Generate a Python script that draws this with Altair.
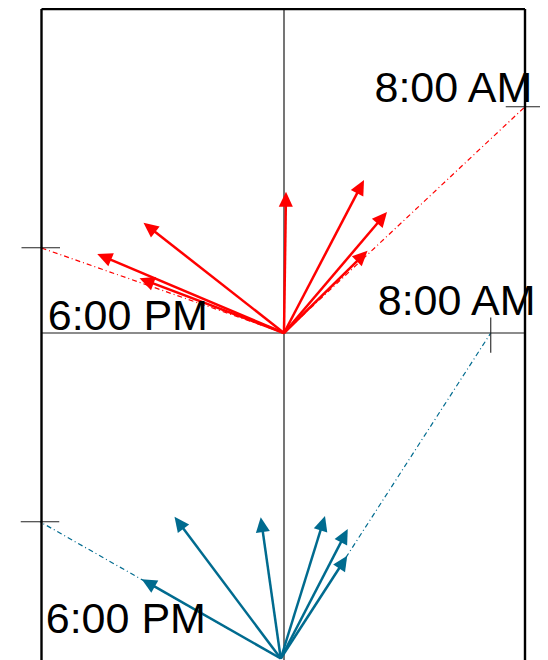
import altair as alt
import pandas as pd
import numpy as np

# ---- data (in plot units; 1 unit ~ same on both axes) ----
red_origin = [0.0, 0.0]
red_tip_x = [0.08, 3.20, 4.12, 3.34, -5.62, -7.47, -5.78]
red_tip_y = [5.65, 6.12, 4.84, 3.29, 4.41, 3.16, 2.19]

blue_origin = [-0.13, -13.02]
blue_tip_x = [-5.69, -4.38, -0.93, 1.64, 2.55, 2.53]
blue_tip_y = [-9.85, -7.35, -7.37, -7.32, -7.84, -8.91]

series_names = ["red", "blue"]
series_colors = ["#ff0000", "#006b8f"]

guide_series = ["red", "red", "blue", "blue"]
guide_end_x = [9.64, -9.73, 8.27, -9.76]
guide_end_y = [9.05, 3.41, 0.0, -7.55]
tick_dir = ["h", "h", "v", "h"]
tick_half = 0.77

label_text = ["8:00 AM", "6:00 PM", "8:00 AM", "6:00 PM"]
label_x = [9.93, -9.45, 10.06, -9.53]
label_y = [9.25, 0.12, 0.72, -12.01]
label_align = ["right", "left", "right", "left"]

frame_left, frame_right, frame_top = -9.70, 9.64, 12.96
x_domain = [-11.04, 10.24]
y_domain = [-13.08, 13.0]

W, H = 532, 652
head_len = 0.5

# ---- build tables ----
rows = []
for name, org, tx, ty in [("red", red_origin, red_tip_x, red_tip_y),
                          ("blue", blue_origin, blue_tip_x, blue_tip_y)]:
    for a, b in zip(tx, ty):
        du, dv = a - org[0], b - org[1]
        L = np.hypot(du, dv)
        ang = (np.degrees(np.arctan2(du, dv)) + 360) % 360
        rows.append(dict(series=name, x=org[0], y=org[1], x2=a, y2=b,
                         sx=a - du / L * head_len, sy=b - dv / L * head_len,
                         angle=ang))
arrows = pd.DataFrame(rows)

origins = {"red": red_origin, "blue": blue_origin}
guides = pd.DataFrame(dict(series=guide_series,
                           x=[origins[s][0] for s in guide_series],
                           y=[origins[s][1] for s in guide_series],
                           x2=guide_end_x, y2=guide_end_y))

trows = []
for ex, ey, d in zip(guide_end_x, guide_end_y, tick_dir):
    if d == "h":
        trows.append(dict(x=ex - tick_half, x2=ex + tick_half, y=ey, y2=ey))
    else:
        trows.append(dict(x=ex, x2=ex, y=ey + tick_half * 0.8, y2=ey - tick_half * 1.03))
ticks = pd.DataFrame(trows)

frame = pd.DataFrame(dict(
    x=[frame_left, frame_right, frame_left],
    x2=[frame_left, frame_right, frame_right],
    y=[frame_top, frame_top, frame_top],
    y2=[y_domain[0], y_domain[0], frame_top]))

cross = pd.DataFrame(dict(
    x=[frame_left, 0.0], x2=[frame_right, 0.0],
    y=[0.0, frame_top], y2=[0.0, y_domain[0]]))

labels = pd.DataFrame(dict(text=label_text, x=label_x, y=label_y, align=label_align))

xs = alt.Scale(domain=x_domain, nice=False, zero=False)
ys = alt.Scale(domain=y_domain, nice=False, zero=False)
col = alt.Color("series:N", scale=alt.Scale(domain=series_names, range=series_colors), legend=None)

def X(f="x"):
    return alt.X(f"{f}:Q", scale=xs, axis=None)

def Y(f="y"):
    return alt.Y(f"{f}:Q", scale=ys, axis=None)

cross_layer = alt.Chart(cross).mark_rule(color="#1a1a1a", strokeWidth=1.2).encode(
    x=X(), y=Y(), x2="x2:Q", y2="y2:Q")

frame_layer = alt.Chart(frame).mark_rule(color="#000000", strokeWidth=2.4).encode(
    x=X(), y=Y(), x2="x2:Q", y2="y2:Q")

guide_layer = alt.Chart(guides).mark_rule(strokeWidth=1.2, strokeDash=[5, 3, 1, 3]).encode(
    x=X(), y=Y(), x2="x2:Q", y2="y2:Q", color=col)

tick_layer = alt.Chart(ticks).mark_rule(color="#222222", strokeWidth=1.1).encode(
    x=X(), y=Y(), x2="x2:Q", y2="y2:Q")

shaft_layer = alt.Chart(arrows).mark_rule(strokeWidth=2.5).encode(
    x=X(), y=Y(), x2="sx:Q", y2="sy:Q", color=col)

head_layer = alt.Chart(arrows).mark_point(
    shape="M0,0L-0.47,1L0.47,1Z", filled=True, opacity=1, size=900, strokeWidth=0
).encode(
    x=X("x2"), y=Y("y2"), angle=alt.Angle("angle:Q", scale=None), color=col)

text_layers = []
for al in ["left", "right"]:
    text_layers.append(
        alt.Chart(labels[labels["align"] == al]).mark_text(
            font="Liberation Sans", fontSize=43, baseline="alphabetic",
            color="#000000", align=al
        ).encode(x=X(), y=Y(), text="text:N")
    )

chart = alt.layer(cross_layer, guide_layer, shaft_layer, head_layer, tick_layer,
                  frame_layer, *text_layers).properties(
    width=W, height=H,
    autosize=alt.AutoSizeParams(type="none"),
    padding=0,
).configure_view(stroke=None)

chart.save("out.html", embed_options={"renderer": "svg", "actions": False})
